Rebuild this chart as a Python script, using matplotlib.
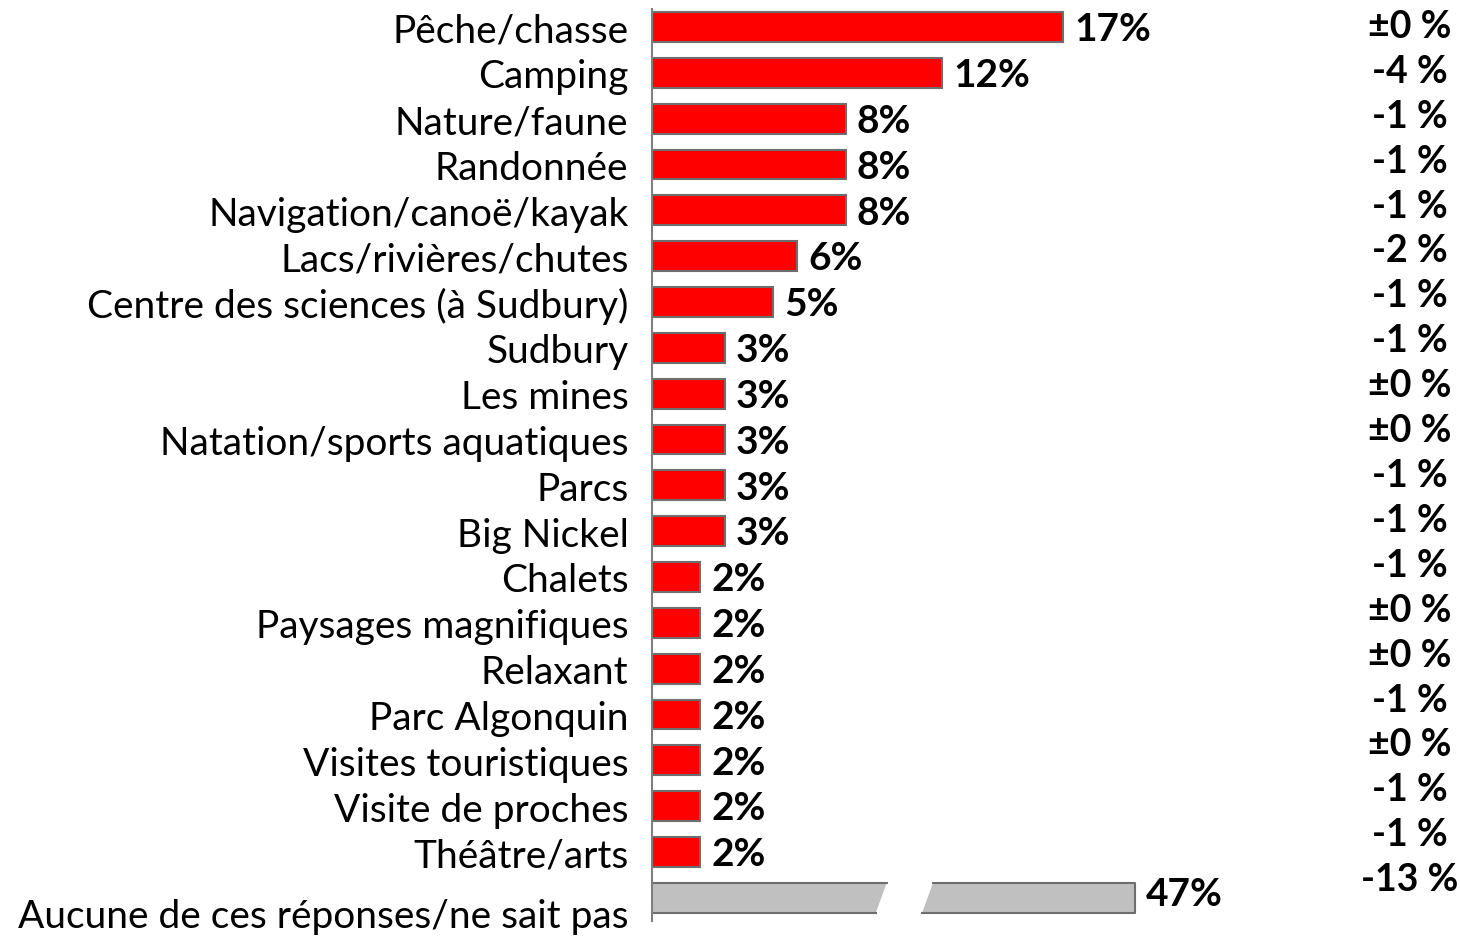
import matplotlib
matplotlib.use("Agg")
import matplotlib.pyplot as plt
from matplotlib.patches import Polygon

plt.rcParams['font.family'] = ['Lato', 'DejaVu Sans']

categories = ["Pêche/chasse", "Camping", "Nature/faune", "Randonnée",
              "Navigation/canoë/kayak", "Lacs/rivières/chutes",
              "Centre des sciences (à Sudbury)", "Sudbury", "Les mines",
              "Natation/sports aquatiques", "Parcs", "Big Nickel", "Chalets",
              "Paysages magnifiques", "Relaxant", "Parc Algonquin",
              "Visites touristiques", "Visite de proches", "Théâtre/arts"]
values = [17, 12, 8, 8, 8, 6, 5, 3, 3, 3, 3, 3, 2, 2, 2, 2, 2, 2, 2]

none_label = "Aucune de ces réponses/ne sait pas"
none_value = 47
none_display = 19.96   # broken bar shown compressed

changes = ["±0 %", "-4 %", "-1 %", "-1 %", "-1 %", "-2 %", "-1 %", "-1 %",
           "±0 %", "±0 %", "-1 %", "-1 %", "-1 %", "±0 %", "±0 %", "-1 %",
           "±0 %", "-1 %", "-1 %", "-13 %"]

W, H = 1460, 937
fig = plt.figure(figsize=(W / 100, H / 100), dpi=100)
x0, x1 = 652, 1460
ytop, ybot = 10, 922
ax = fig.add_axes([x0 / W, 1 - ybot / H, (x1 - x0) / W, (ybot - ytop) / H])

px_per_pct = 24.2
row_sp = 45.83
ax.set_xlim(0, (x1 - x0) / px_per_pct)
ax.set_ylim((ybot - 28) / row_sp, (ytop - 28) / row_sp)

FS = 28
bh = 0.65
ypos = list(range(len(categories)))
ax.barh(ypos, values, height=bh, color='#ff0000', edgecolor='#6e6e6e', linewidth=1.5)
for y, v in zip(ypos, values):
    ax.text(v + 0.45, y + 0.04, f"{v}%", va='center', ha='left', fontsize=FS,
            fontweight='bold', color='black')

# broken gray bar
yg = len(categories)
top, bot = yg - bh / 2, yg + bh / 2
brk_l_top, brk_l_bot = 9.7, 9.25
brk_r_top, brk_r_bot = 11.6, 11.15
left = Polygon([(0, top), (brk_l_top, top), (brk_l_bot, bot), (0, bot)], closed=True,
               facecolor='#c0c0c0', edgecolor='none')
right = Polygon([(brk_r_top, top), (none_display, top), (none_display, bot), (brk_r_bot, bot)],
                closed=True, facecolor='#c0c0c0', edgecolor='none')
ax.add_patch(left)
ax.add_patch(right)
ec = '#6e6e6e'
ax.plot([0, brk_l_top], [top, top], color=ec, lw=1.5)
ax.plot([0, brk_l_bot], [bot, bot], color=ec, lw=1.5)
ax.plot([brk_r_top, none_display, none_display, brk_r_bot],
        [top, top, bot, bot], color=ec, lw=1.5)
ax.text(none_display + 0.45, yg - 0.1, f"{none_value}%", va='center', ha='left',
        fontsize=FS, fontweight='bold', color='black')

ax.set_yticks(ypos)
ax.set_yticklabels(categories, fontsize=FS)
ax.tick_params(axis='y', length=0, pad=17)
ax.set_xticks([])
ax.annotate(none_label, xy=(0, yg), xycoords='data', xytext=(-17, -13),
            textcoords='offset points', ha='right', va='center', fontsize=FS)

for s in ['top', 'right', 'bottom']:
    ax.spines[s].set_visible(False)
ax.spines['left'].set_color('#808080')
ax.spines['left'].set_linewidth(1.5)

# right column of changes
for i, c in enumerate(changes):
    yp = 27 + i * 44.9
    fig.text(1410 / W, 1 - yp / H, c, ha='center', va='center', fontsize=FS - 1,
             fontweight='bold')

fig.savefig("out.png", dpi=100)
